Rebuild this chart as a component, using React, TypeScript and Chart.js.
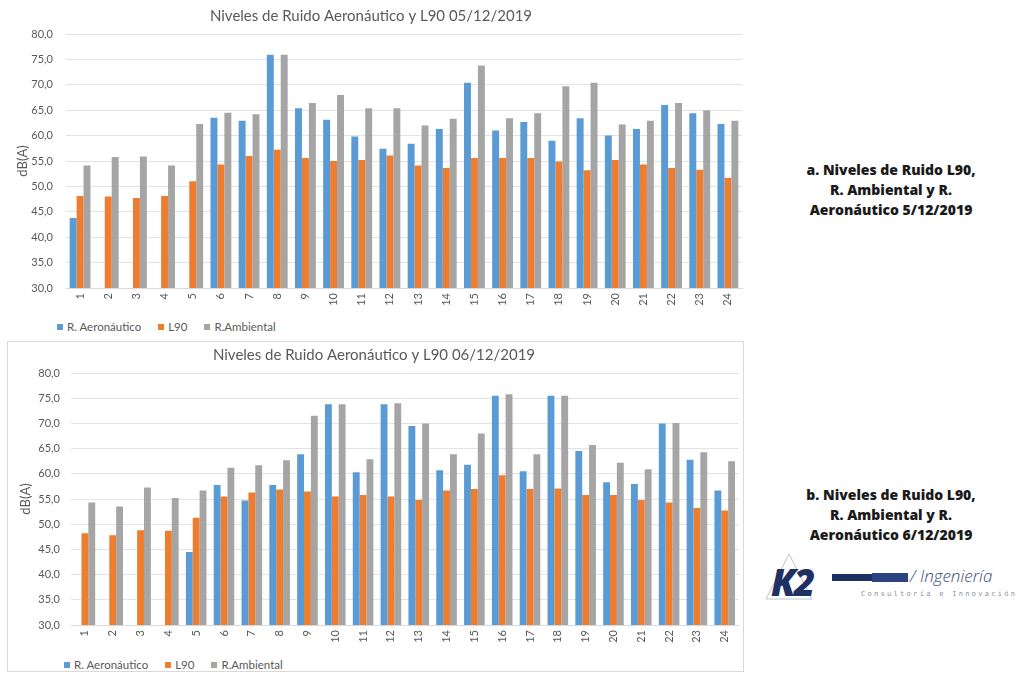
import React, { useEffect, useRef } from "react";
import { Chart, registerables } from "chart.js";

Chart.register(...registerables);

// Hours of the day (1..24)
const hours: string[] = [
  "1", "2", "3", "4", "5", "6", "7", "8", "9", "10", "11", "12",
  "13", "14", "15", "16", "17", "18", "19", "20", "21", "22", "23", "24",
];

// 05/12/2019
const aero05: (number | null)[] = [
  43.8, null, null, null, null, 63.5, 62.9, 75.9, 65.4, 63.1, 59.8, 57.4,
  58.4, 61.3, 70.4, 61.0, 62.7, 59.0, 63.4, 60.0, 61.3, 66.0, 64.4, 62.3,
];
const l90_05: number[] = [
  48.1, 48.0, 47.7, 48.1, 51.0, 54.3, 56.0, 57.2, 55.6, 55.0, 55.2, 56.1,
  54.1, 53.6, 55.6, 55.6, 55.6, 54.9, 53.2, 55.2, 54.3, 53.6, 53.3, 51.7,
];
const amb05: number[] = [
  54.1, 55.8, 55.9, 54.1, 62.3, 64.5, 64.2, 75.9, 66.4, 68.0, 65.4, 65.4,
  62.0, 63.3, 73.8, 63.4, 64.4, 69.7, 70.4, 62.2, 62.9, 66.4, 65.0, 62.9,
];

// 06/12/2019
const aero06: (number | null)[] = [
  null, null, null, null, 44.5, 57.8, 54.7, 57.8, 63.9, 73.8, 60.3, 73.8,
  69.5, 60.7, 61.8, 75.5, 60.5, 75.5, 64.5, 58.3, 58.0, 70.0, 62.8, 56.7,
];
const l90_06: number[] = [
  48.2, 47.8, 48.8, 48.7, 51.3, 55.5, 56.3, 56.9, 56.5, 55.5, 55.8, 55.5,
  54.8, 56.7, 57.0, 59.7, 57.0, 57.1, 55.8, 55.8, 54.8, 54.3, 53.2, 52.7,
];
const amb06: number[] = [
  54.3, 53.5, 57.3, 55.2, 56.7, 61.2, 61.7, 62.7, 71.5, 73.8, 62.9, 74.0,
  70.0, 63.9, 68.0, 75.8, 63.9, 75.5, 65.7, 62.2, 60.9, 70.1, 64.3, 62.5,
];

const seriesNames: string[] = ["R. Aeronáutico", "L90", "R.Ambiental"];
const seriesColors: string[] = ["#5B9BD5", "#ED7D31", "#A5A5A5"];

const yMin = 30;
const yMax = 80;
const yStep = 5;

const FONT = "Lato, 'Open Sans', sans-serif";
const TEXT = "#595959";

interface BarProps {
  title: string;
  series: (number | null)[][];
  width: number;
  height: number;
  yWidth: number;
  xHeight: number;
  padRight: number;
  titleTop: number;
  titleBottom: number;
  yTitlePad: number;
  yTickPad: number;
}

function NoiseBars(p: BarProps) {
  const ref = useRef<HTMLCanvasElement | null>(null);
  useEffect(() => {
    if (!ref.current) return;
    const chart = new Chart(ref.current, {
      type: "bar",
      data: {
        labels: hours,
        datasets: p.series.map((d, i) => ({
          label: seriesNames[i],
          data: d,
          backgroundColor: seriesColors[i],
          borderWidth: 0,
          barPercentage: 1,
          categoryPercentage: 0.74,
        })),
      },
      options: {
        animation: false,
        responsive: true,
        maintainAspectRatio: false,
        layout: { padding: { left: 0, right: p.padRight, top: 0, bottom: 0 } },
        plugins: {
          legend: { display: false },
          tooltip: { enabled: false },
          title: {
            display: true,
            text: p.title,
            color: TEXT,
            font: { family: FONT, size: 15, weight: "normal" },
            padding: { top: p.titleTop, bottom: p.titleBottom },
          },
        },
        scales: {
          x: {
            grid: { display: false, drawTicks: false },
            border: { display: true, color: "#d9d9d9" },
            ticks: {
              color: TEXT,
              font: { family: FONT, size: 11 },
              minRotation: 90,
              maxRotation: 90,
              padding: 5,
              autoSkip: false,
            },
            afterFit: (s: any) => {
              s.height = p.xHeight;
            },
          },
          y: {
            min: yMin,
            max: yMax,
            grid: { color: "#e3e3e3", drawTicks: false },
            border: { display: false },
            ticks: {
              stepSize: yStep,
              color: TEXT,
              font: { family: FONT, size: 11 },
              padding: p.yTickPad,
              callback: (v: any) => Number(v).toFixed(1).replace(".", ","),
            },
            title: {
              display: true,
              text: "dB(A)",
              color: TEXT,
              font: { family: FONT, size: 13 },
              padding: { top: p.yTitlePad, bottom: 0 },
            },
            afterFit: (s: any) => {
              s.width = p.yWidth;
            },
          },
        },
      },
    });
    return () => chart.destroy();
  }, []);
  return (
    <div style={{ position: "absolute", left: 0, top: 0, width: p.width, height: p.height }}>
      <canvas ref={ref} />
    </div>
  );
}

function Legend({ left, top }: { left: number; top: number }) {
  return (
    <div
      style={{
        position: "absolute",
        left,
        top,
        display: "flex",
        alignItems: "center",
        fontFamily: FONT,
        fontSize: 11.5,
        color: TEXT,
        whiteSpace: "nowrap",
      }}
    >
      {seriesNames.map((n, i) => (
        <span key={n} style={{ display: "flex", alignItems: "center", marginRight: 17 }}>
          <span
            style={{
              display: "inline-block",
              width: 6,
              height: 6,
              background: seriesColors[i],
              marginRight: 4,
            }}
          />
          {n}
        </span>
      ))}
    </div>
  );
}

const captionStyle: React.CSSProperties = {
  position: "absolute",
  left: 766,
  width: 250,
  textAlign: "center",
  fontFamily: "'Open Sans', sans-serif",
  fontWeight: 800,
  fontSize: 14,
  lineHeight: "20px",
  color: "#1a1a1a",
};

function Logo() {
  return (
    <svg
      style={{ position: "absolute", left: 760, top: 550 }}
      width={261}
      height={60}
      viewBox="0 0 261 60"
    >
      <polygon points="29,4 6,49 52,49" fill="none" stroke="#b9c3d6" strokeWidth={1} />
      <text
        x={11}
        y={46}
        fontFamily="'Open Sans', sans-serif"
        fontWeight={800}
        fontStyle="italic"
        fontSize={37}
        fill="#1f3063"
        letterSpacing={-2}
      >
        K2
      </text>
      <rect x={72} y={24} width={40} height={7} fill="#1f3063" />
      <rect x={112} y={23} width={36} height={9} fill="#2c4383" />
      <text
        x={150}
        y={32}
        fontFamily="'Open Sans', sans-serif"
        fontStyle="italic"
        fontWeight={300}
        fontSize={17}
        fill="#3a4a78"
      >
        / Ingeniería
      </text>
      <text
        x={101}
        y={46}
        fontFamily="'DejaVu Sans Mono', monospace"
        fontSize={7}
        fill="#8a8f9a"
        letterSpacing={2.3}
      >
        Consultoría e Innovación
      </text>
    </svg>
  );
}

export default function App() {
  return (
    <div
      style={{
        position: "absolute",
        left: 0,
        top: 0,
        width: 1021,
        height: 675,
        background: "#fff",
        overflow: "hidden",
      }}
    >
      {/* 05/12/2019 */}
      <div style={{ position: "absolute", left: 0, top: 0, width: 752, height: 318 }}>
        <NoiseBars
          title="Niveles de Ruido Aeronáutico y L90 05/12/2019"
          series={[aero05, l90_05, amb05]}
          width={752}
          height={318}
          yWidth={66}
          xHeight={30}
          padRight={10}
          titleTop={7}
          titleBottom={9}
          yTitlePad={15}
          yTickPad={13}
        />
      </div>
      <Legend left={57} top={320} />

      {/* 06/12/2019 */}
      <div
        style={{
          position: "absolute",
          left: 7,
          top: 341,
          width: 735,
          height: 329,
          border: "1px solid #d9d9d9",
        }}
      >
        <NoiseBars
          title="Niveles de Ruido Aeronáutico y L90 06/12/2019"
          series={[aero06, l90_06, amb06]}
          width={735}
          height={310}
          yWidth={63}
          xHeight={27}
          padRight={3}
          titleTop={4}
          titleBottom={9}
          yTitlePad={10}
          yTickPad={11}
        />
        <Legend left={56} top={316} />
      </div>

      <div style={{ ...captionStyle, top: 160 }}>
        a. Niveles de Ruido L90,
        <br />
        R. Ambiental y R.
        <br />
        Aeronáutico 5/12/2019
      </div>
      <div style={{ ...captionStyle, top: 485 }}>
        b. Niveles de Ruido L90,
        <br />
        R. Ambiental y R.
        <br />
        Aeronáutico 6/12/2019
      </div>
      <Logo />
    </div>
  );
}
